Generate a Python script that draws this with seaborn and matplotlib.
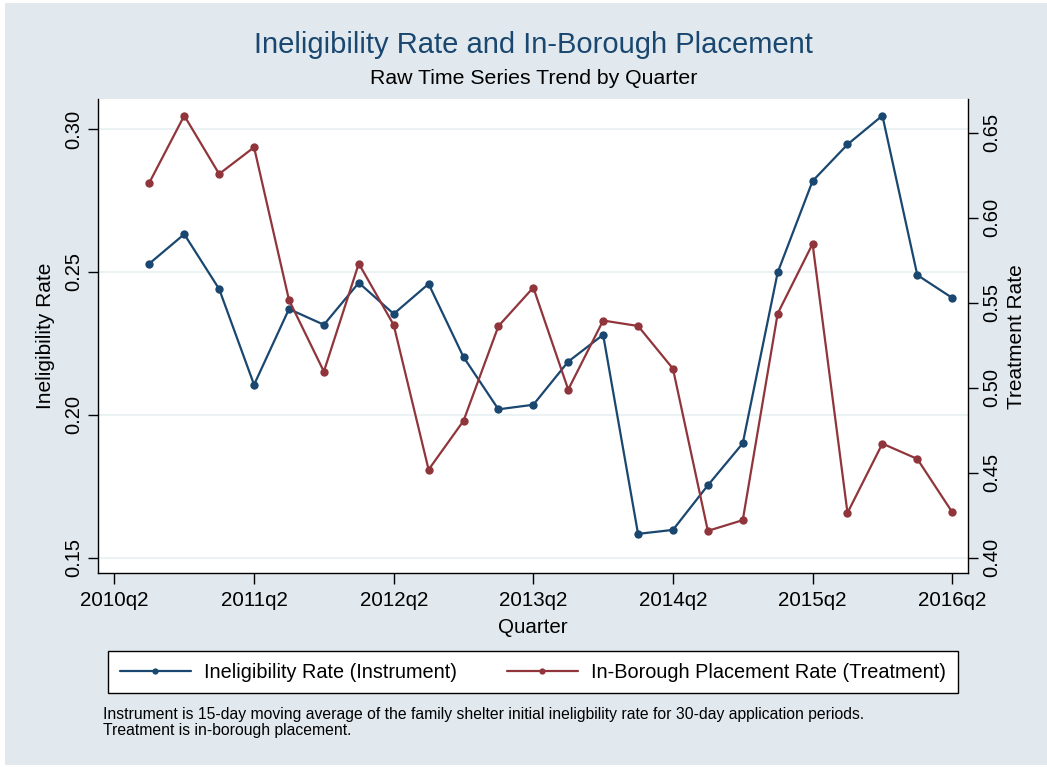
import pandas as pd
import seaborn as sns
import matplotlib.pyplot as plt
from matplotlib.patches import Rectangle

# Quarterly series
quarters = ['2010q3', '2010q4', '2011q1', '2011q2', '2011q3', '2011q4',
            '2012q1', '2012q2', '2012q3', '2012q4', '2013q1', '2013q2',
            '2013q3', '2013q4', '2014q1', '2014q2', '2014q3', '2014q4',
            '2015q1', '2015q2', '2015q3', '2015q4', '2016q1', '2016q2']
ineligibility = [0.2529, 0.2632, 0.2440, 0.2105, 0.2370, 0.2315,
                 0.2462, 0.2353, 0.2458, 0.2202, 0.2019, 0.2035,
                 0.2186, 0.2280, 0.1583, 0.1597, 0.1753, 0.1900,
                 0.2498, 0.2818, 0.2946, 0.3047, 0.2489, 0.2409]
in_borough = [0.6206, 0.6600, 0.6257, 0.6414, 0.5516, 0.5095,
              0.5730, 0.5369, 0.4518, 0.4805, 0.5362, 0.5589,
              0.4989, 0.5395, 0.5363, 0.5112, 0.4158, 0.4221,
              0.5436, 0.5846, 0.4264, 0.4671, 0.4581, 0.4268]
tick_labels = ['2010q2', '2011q2', '2012q2', '2013q2', '2014q2', '2015q2', '2016q2']
left_ticks = [0.15, 0.20, 0.25, 0.30]
right_ticks = [0.40, 0.45, 0.50, 0.55, 0.60, 0.65]
notes = ['Instrument is 15-day moving average of the family shelter initial ineligbility rate for 30-day application periods.',
         'Treatment is in-borough placement.']


def qnum(s):
    # quarters counted from 2010q2
    return int(s[:4]) * 4 + int(s[5]) - (2010 * 4 + 2)


df = pd.DataFrame({'quarter': quarters, 'ineligibility': ineligibility, 'in_borough': in_borough})
df['x'] = df['quarter'].map(qnum)

navy = '#1A476F'
maroon = '#90353B'
bg = '#E1E9EF'
grid = '#EAF2F3'

sns.set_theme(style='white')
plt.rcParams['font.family'] = ['Liberation Sans', 'DejaVu Sans']
plt.rcParams['text.color'] = 'black'
plt.rcParams['axes.labelcolor'] = 'black'
plt.rcParams['xtick.color'] = 'black'
plt.rcParams['ytick.color'] = 'black'

fig = plt.figure(figsize=(10.47, 7.67), dpi=100)
fig.patch.set_facecolor('white')
fig.add_artist(Rectangle((5 / 1047, 2 / 767), 1 - 5 / 1047, 1 - 5 / 767,
                         transform=fig.transFigure, facecolor=bg, edgecolor='none', zorder=-10))

ax = fig.add_axes([0.0933, 0.2529, 0.8315, 0.6176])
ax.set_facecolor('white')
ax2 = ax.twinx()

sns.lineplot(data=df, x='x', y='ineligibility', ax=ax, color=navy, marker='o',
             markersize=6, markeredgewidth=0, linewidth=1.6, legend=False)
sns.lineplot(data=df, x='x', y='in_borough', ax=ax2, color=maroon, marker='o',
             markersize=6, markeredgewidth=0, linewidth=1.6, legend=False)

ax.set_xlim(-0.48, 24.46)
ax.set_ylim(0.1446, 0.3104)
ax2.set_ylim(0.391, 0.6696)

ax.set_xticks([qnum(t) for t in tick_labels])
ax.set_xticklabels(tick_labels)
ax.set_yticks(left_ticks)
ax.set_yticklabels([f'{v:.2f}' for v in left_ticks])
ax2.set_yticks(right_ticks)
ax2.set_yticklabels([f'{v:.2f}' for v in right_ticks])

ax.grid(axis='y', color=grid, linewidth=1.5)
ax.set_axisbelow(True)

for a in (ax, ax2):
    for s in a.spines.values():
        s.set_visible(False)
        s.set_color('black')
        s.set_linewidth(1.0)
ax.spines['left'].set_visible(True)
ax.spines['bottom'].set_visible(True)
ax2.spines['right'].set_visible(True)

ax.tick_params(axis='x', direction='out', length=7.6, width=1, color='black',
               labelsize=14.8, pad=5.5, bottom=True)
ax.tick_params(axis='y', direction='out', length=7.2, width=1, color='black',
               labelsize=14.5, labelrotation=90, pad=3, left=True)
ax2.tick_params(axis='y', direction='out', length=7.2, width=1, color='black',
                labelsize=14.5, labelrotation=90, pad=3, right=True)
plt.setp(ax.get_yticklabels(), va='center')
plt.setp(ax2.get_yticklabels(), va='center')

ax.set_xlabel('Quarter', fontsize=14.8)
ax.xaxis.set_label_coords(0.5, -0.094)
ax.set_ylabel('Ineligibility Rate', fontsize=15, va='center')
ax.yaxis.set_label_coords(-0.0605, 0.5)
ax2.set_ylabel('Treatment Rate', fontsize=15, va='center', rotation=90)
ax2.yaxis.set_label_coords(1.0556, 0.5)

fig.text(0.5096, 1 - 45 / 767, 'Ineligibility Rate and In-Borough Placement',
         ha='center', va='center', fontsize=21, color=navy)
fig.text(0.5096, 1 - 79 / 767, 'Raw Time Series Trend by Quarter',
         ha='center', va='center', fontsize=15.3, color='black')

handles = [ax.get_lines()[0], ax2.get_lines()[0]]
labels = ['Ineligibility Rate (Instrument)', 'In-Borough Placement Rate (Treatment)']
leg = fig.legend(handles, labels, loc='center', bbox_to_anchor=(0.509, 1 - 672 / 767),
                 ncol=2, fontsize=14.3, frameon=True, fancybox=False, shadow=False,
                 edgecolor='black', facecolor='white', framealpha=1,
                 handlelength=3.6, handletextpad=0.65, columnspacing=2.5,
                 borderpad=0.6, numpoints=1)
leg.get_frame().set_linewidth(1.0)
for h in leg.legend_handles:
    h.set_markersize(4.5)

# footnote, one baseline per line
for i, line in enumerate(notes):
    fig.text(102.7 / 1047, 1 - (719 + 16 * i) / 767, line,
             ha='left', va='baseline', fontsize=11.3, color='black')

fig.savefig('out.png', dpi=100)
